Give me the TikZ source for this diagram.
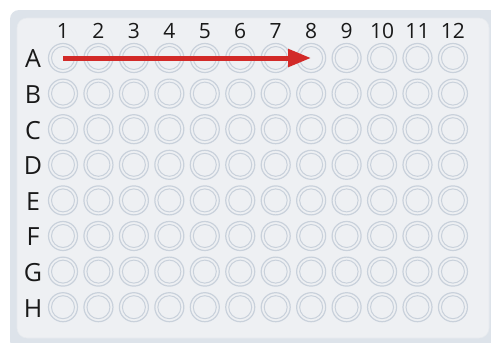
\documentclass[tikz,border=0pt]{standalone}
\usepackage{fontspec}
\setmainfont{Open Sans}
\usepackage{tikz}
\usetikzlibrary{arrows.meta,positioning,calc}

\definecolor{plateedge}{HTML}{DDE3EA}
\definecolor{platefill}{HTML}{EEF0F3}
\definecolor{wellline}{HTML}{C9D1DB}
\definecolor{arrowred}{HTML}{D22A28}

\tikzset{
    well/.style={circle, draw=wellline, line width=1.2pt, fill=platefill,
        minimum size=29pt, inner sep=0pt},
    wellinner/.style={circle, draw=wellline, line width=1pt,
        minimum size=23pt, inner sep=0pt},
    collabel/.style={font=\fontsize{21}{21}\selectfont, text=black!90},
    rowlabel/.style={font=\fontsize{25}{25}\selectfont, text=black!90},
    platearrow/.style={arrowred, line width=5pt, -{Triangle[length=23pt, width=17pt]}}
}

\begin{document}
\begin{tikzpicture}[x=1pt, y=-1pt]
    \useasboundingbox (0,0) rectangle (491,343);

    % Plate body
    \fill[plateedge, rounded corners=9pt] (10,10) rectangle (500,350);
    \draw[platefill!80!wellline, fill=platefill, rounded corners=10pt, line width=0.6pt]
        (17,18) rectangle (489,338);

    % Column numbers
    \foreach \c in {1,...,12}
        \node[collabel] (col\c) at ({63+(\c-1)*35.45}, 31) {\c};

    % Rows of wells
    \foreach \r [count=\i] in {A,B,C,D,E,F,G,H} {
        \node[rowlabel] (row\r) at (33, {59+(\i-1)*35.6}) {\r};
        \foreach \c in {1,...,12} {
            \node[well] (\r\c) at ({63+(\c-1)*35.45}, {58+(\i-1)*35.6}) {};
            \node[wellinner] at (\r\c) {};
        }
    }

    % Filling direction
    \draw[platearrow] (A1.center) -- (A8.center);
\end{tikzpicture}
\end{document}
